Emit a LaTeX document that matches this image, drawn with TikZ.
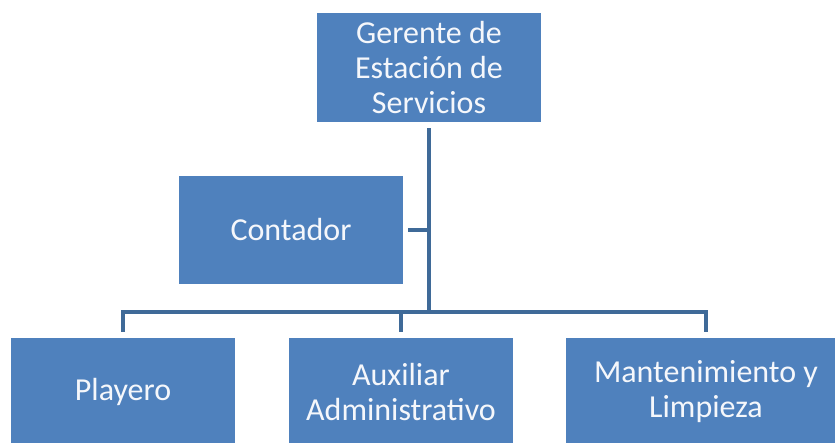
\documentclass[tikz,border=0pt]{standalone}
\usepackage{fontspec}
\setmainfont{Carlito}
\definecolor{boxblue}{HTML}{4F81BD}
\definecolor{lineblue}{HTML}{3F6A98}
\begin{document}
\begin{tikzpicture}[x=1pt,y=-1pt,
  box/.style={fill=boxblue, text=white!94!boxblue, font=\fontsize{32}{35}\selectfont,
    align=center, inner sep=0pt, minimum width=224pt, minimum height=108pt},
  conn/.style={draw=lineblue, line width=4.5pt, line join=miter}]
\useasboundingbox (0,0) rectangle (835,442);
\clip (0,0) rectangle (835,442);
\node[box, minimum height=109pt] (g) at (429,67.5) {Gerente de\\Estación de\\Servicios};
\node[box] (c) at (291,230) {Contador};
\node[box] (p) at (123,392) {Playero};
\node[box] (a) at (401,392) {Auxiliar\\Administrativo};
\node[box, minimum width=280pt] (m) at (706,392) {Mantenimiento y\\Limpieza};
\coordinate (j) at (429,312);
\draw[conn, shorten <=6pt] (g.south) -- (j);
\draw[conn, shorten <=5pt] (c.east) -- (c.east -| g.south);
\draw[conn, shorten >=6pt] (j) -| (p.north);
\draw[conn, shorten >=6pt] (j) -| (a.north);
\draw[conn, shorten >=6pt] (j) -| (m.north);
\end{tikzpicture}
\end{document}
